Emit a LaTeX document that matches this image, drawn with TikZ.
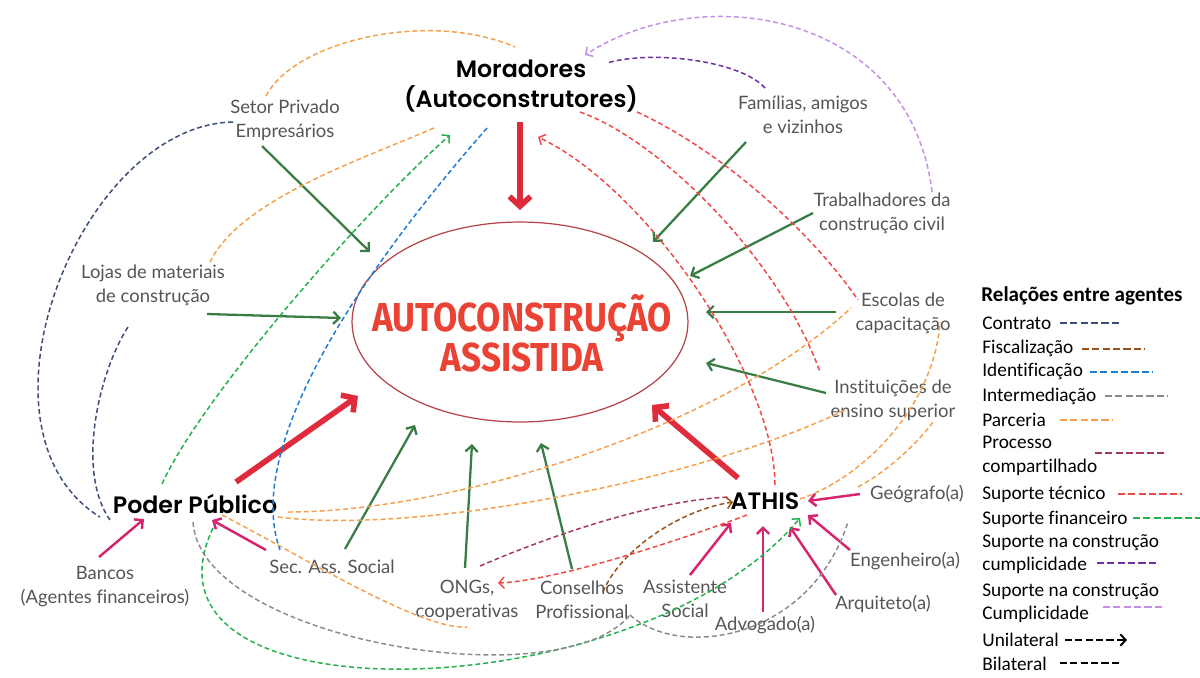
\documentclass[tikz,border=0pt]{standalone}
\usepackage{fontspec}
\setmainfont{Lato}[Ligatures=NoCommon]
\newfontfamily\popfont{Poppins}[UprightFont=* SemiBold]
\newfontfamily\titfont{Fira Sans}[FakeStretch=0.87]
\newfontfamily\legfont{Carlito}[Ligatures=NoCommon]
\usepackage{xcolor}
\usepackage{tikz}
\usetikzlibrary{shapes.geometric,arrows.meta,calc}
\definecolor{cnavy}{HTML}{3B4E78}
\definecolor{cbrown}{HTML}{98541B}
\definecolor{cblue}{HTML}{1F7BD8}
\definecolor{cgray}{HTML}{8C8C8C}
\definecolor{corange}{HTML}{F6A04D}
\definecolor{cmaroon}{HTML}{A33A5A}
\definecolor{cred}{HTML}{F04848}
\definecolor{cgreen}{HTML}{22B14C}
\definecolor{cpurple}{HTML}{7030A0}
\definecolor{clav}{HTML}{C48FE6}
\definecolor{solgreen}{HTML}{3A7D44}
\definecolor{thickred}{HTML}{E02B3C}
\definecolor{pinkarr}{HTML}{D6246E}
\definecolor{ellred}{HTML}{B5434A}
\definecolor{titred}{HTML}{EA4335}
\definecolor{labgray}{HTML}{555555}

\begin{document}
\begin{tikzpicture}[x=0.02cm,y=-0.02cm,
  lbl/.style={text=labgray,font=\fontsize{10.5}{13.6}\selectfont,align=center,inner sep=1pt},
  bigtxt/.style={font=\popfont\fontsize{13.5}{17}\selectfont,align=center,inner sep=1pt},
  grn/.style={draw=solgreen,line width=1.3pt,-{Straight Barb[length=3.5pt,width=7pt]}},
  mag/.style={draw=pinkarr,line width=1.4pt,-{Straight Barb[length=3.5pt,width=7pt]}},
  bigarr/.style={draw=thickred,line width=3.2pt,-{Straight Barb[length=5.5pt,width=12pt]}},
  dsh/.style={line width=0.85pt,dash pattern=on 2.8pt off 1.7pt},
  dtip/.style={-{Straight Barb[length=3pt,width=6.5pt]}},
  ldsh/.style={line width=1.1pt,dash pattern=on 4pt off 1.9pt},
  leg/.style={font=\legfont\fontsize{11}{13.4}\selectfont,anchor=west,inner sep=0pt,align=left}]
\useasboundingbox (0,0) rectangle (1200,677);

\node[bigtxt] (mor) at (521,86) {Moradores\\(Autoconstrutores)};
\node[draw=ellred,line width=0.7pt,ellipse,minimum width=6.72cm,minimum height=4cm] (ell) at (520,322) {};
\node[font=\titfont\bfseries\fontsize{23}{22.7}\selectfont,text=titred,align=center] (ttl) at (522,333) {AUTOCONSTRUÇÃO\\ASSISTIDA};
\node[lbl] (setor) at (285,120) {Setor Privado\\Empresários};
\node[lbl] (fam) at (803,115) {Famílias, amigos\\e vizinhos};
\node[lbl] (trab) at (882,213) {Trabalhadores da\\construção civil};
\node[lbl] (lojas) at (153,285) {Lojas de materiais\\de construção};
\node[lbl] (esc) at (903,313) {Escolas de\\capacitação};
\node[lbl] (inst) at (893,400) {Instituições de\\ensino superior};
\node[bigtxt] (pp) at (195,504) {Poder Público};
\node[bigtxt] (athis) at (765,501) {ATHIS};
\node[lbl] (geo) at (917,494) {Geógrafo(a)};
\node[lbl] (eng) at (905,561) {Engenheiro(a)};
\node[lbl] (arq) at (883,604) {Arquiteto(a)};
\node[lbl] (adv) at (765,625) {Advogado(a)};
\node[lbl] (assis) at (685,599) {Assistente\\Social};
\node[lbl] (cons) at (582,600) {Conselhos\\Profissional};
\node[lbl] (ongs) at (467,600) {ONGs,\\cooperativas};
\node[lbl] (sec) at (332,567) {Sec. Ass. Social};
\node[lbl] (bancos) at (105,587) {Bancos\\(Agentes financeiros)};

% pontos de chegada
\coordinate (morS) at (520,122);   \coordinate (ellN) at (520,210);
\coordinate (ppNE) at (236,482);   \coordinate (ellSW) at (358,396);
\coordinate (athisNW) at (738,478); \coordinate (ellSE) at (652,405);
\coordinate (setorS) at (262,146); \coordinate (ellA) at (370,252);
\coordinate (famS) at (746,142);   \coordinate (ellB) at (653,242);
\coordinate (trabW) at (813,213);  \coordinate (ellC) at (690,276);
\coordinate (lojasE) at (207,314); \coordinate (ellD) at (341,318);
\coordinate (escW) at (836,312);   \coordinate (ellE) at (706,312);
\coordinate (instW) at (826,393);  \coordinate (ellF) at (706,363);
\coordinate (secN) at (345,549);   \coordinate (ellG) at (415,425);
\coordinate (ongsN) at (465,568);  \coordinate (ellH) at (472,444);
\coordinate (consN) at (572,569);  \coordinate (ellI) at (541,443);
\coordinate (bancosN) at (99,557); \coordinate (ppSW) at (144,519);
\coordinate (secW) at (266,550);   \coordinate (ppS) at (212,520);
\coordinate (geoW) at (860,494);   \coordinate (athisE) at (808,501);
\coordinate (engW) at (850,550);   \coordinate (athisSE) at (808,515);
\coordinate (arqN) at (836,595);   \coordinate (athisS1) at (790,527);
\coordinate (advN) at (763,612);   \coordinate (athisS2) at (763,526);
\coordinate (assisN) at (690,575); \coordinate (athisSW) at (731,523);

\draw[bigarr] (morS) -- (ellN);
\draw[bigarr] (ppNE) -- (ellSW);
\draw[bigarr] (athisNW) -- (ellSE);
\draw[grn] (setorS) -- (ellA);
\draw[grn] (famS) -- (ellB);
\draw[grn] (trabW) -- (ellC);
\draw[grn] (lojasE) -- (ellD);
\draw[grn] (escW) -- (ellE);
\draw[grn] (instW) -- (ellF);
\draw[grn] (secN) -- (ellG);
\draw[grn] (ongsN) -- (ellH);
\draw[grn] (consN) -- (ellI);
\draw[mag] (bancosN) -- (ppSW);
\draw[mag] (secW) -- (ppS);
\draw[mag] (geoW) -- (athisE);
\draw[mag] (engW) -- (athisSE);
\draw[mag] (arqN) -- (athisS1);
\draw[mag] (advN) -- (athisS2);
\draw[mag] (assisN) -- (athisSW);

% relacoes tracejadas
\coordinate (setorT) at (266,96);  \coordinate (morTL) at (515,47);
\coordinate (morL) at (434,128);   \coordinate (lojasT) at (210,262);
\coordinate (ppR1) at (288,512);   \coordinate (escL) at (851,308);
\coordinate (ppR2) at (278,517);   \coordinate (instL) at (845,410);
\coordinate (athisR) at (800,499); \coordinate (escB) at (940,322);
\coordinate (geoT) at (858,487);   \coordinate (instB) at (933,422);
\coordinate (ppB1) at (222,515);   \coordinate (ongsB) at (467,627);
\coordinate (ppT) at (162,484);    \coordinate (morL2) at (450,135);
\coordinate (ppB2) at (213,528);   \coordinate (athisB) at (800,518);
\coordinate (ppB3) at (193,522);   \coordinate (consB) at (630,615);
\coordinate (engL) at (848,522);
\coordinate (morB) at (487,128);   \coordinate (secT) at (280,550);
\coordinate (setorL) at (233,122); \coordinate (ppL1) at (100,517);
\coordinate (lojasB) at (128,327); \coordinate (ppL2) at (110,520);
\coordinate (famT) at (765,88);    \coordinate (morR) at (607,63);
\coordinate (trabT) at (932,192);  \coordinate (morTR) at (585,55);
\coordinate (morB2) at (580,112);  \coordinate (redA) at (820,372);
\coordinate (morB3) at (637,112);  \coordinate (escL2) at (858,300);
\coordinate (athisT) at (775,485); \coordinate (morB4) at (538,137);
\coordinate (athisL) at (747,515); \coordinate (ongsR) at (498,583);
\coordinate (ongsT) at (480,566);  \coordinate (athisL2) at (730,497);
\coordinate (consT) at (603,592);  \coordinate (athisL3) at (733,502);

\draw[dsh,corange] (setorT) .. controls (295,40) and (430,10) .. (morTL);
\draw[dsh,corange] (morL) .. controls (360,160) and (240,200) .. (lojasT);
\draw[dsh,corange] (ppR1) .. controls (450,512) and (720,430) .. (escL);
\draw[dsh,corange] (ppR2) .. controls (420,535) and (700,480) .. (instL);
\draw[dsh,corange] (athisR) .. controls (870,475) and (935,400) .. (escB);
\draw[dsh,corange] (geoT) .. controls (890,470) and (920,440) .. (instB);
\draw[dsh,corange] (ppB1) .. controls (300,555) and (420,630) .. (ongsB);
\draw[dsh,cgreen,dtip] (ppT) .. controls (200,400) and (360,215) .. (morL2);
\draw[dsh,cgreen,dtip] (ppB2) .. controls (120,725) and (640,710) .. (athisB);
\draw[dsh,cgray] (ppB3) .. controls (200,640) and (560,700) .. (consB);
\draw[dsh,cgray] (consB) .. controls (680,660) and (810,640) .. (engL);
\draw[dsh,cblue] (morB) .. controls (380,250) and (240,440) .. (secT);
\draw[dsh,cnavy] (setorL) .. controls (80,125) and (-40,430) .. (ppL1);
\draw[dsh,cnavy] (lojasB) .. controls (100,370) and (75,470) .. (ppL2);
\draw[dsh,cpurple] (famT) .. controls (740,60) and (650,50) .. (morR);
\draw[dsh,clav,dtip] (trabT) .. controls (910,10) and (700,-20) .. (morTR);
\draw[dsh,cred] (morB2) .. controls (660,140) and (780,260) .. (redA);
\draw[dsh,cred] (morB3) .. controls (720,150) and (810,230) .. (escL2);
\draw[dsh,cred,dtip] (athisT) .. controls (775,380) and (650,190) .. (morB4);
\draw[dsh,cred,dtip] (athisL) .. controls (680,540) and (560,580) .. (ongsR);
\draw[dsh,cmaroon] (ongsT) .. controls (540,540) and (650,500) .. (athisL2);
\draw[dsh,cbrown,dtip] (consT) .. controls (620,550) and (680,510) .. (athisL3);

% legenda
\node[font=\legfont\bfseries\fontsize{12}{14}\selectfont] (lgt) at (1082,296) {Relações entre agentes};
\node[leg] (lg1) at (982,323) {Contrato};
\node[leg] (lg2) at (982,348) {Fiscalização};
\node[leg] (lg3) at (982,371) {Identificação};
\node[leg] (lg4) at (982,396) {Intermediação};
\node[leg] (lg5) at (982,420) {Parceria};
\node[leg] (lg6) at (982,456) {Processo\\compartilhado};
\node[leg] (lg7) at (982,494) {Suporte técnico};
\node[leg] (lg8) at (982,519) {Suporte financeiro};
\node[leg] (lg9) at (982,554) {Suporte na construção\\cumplicidade};
\node[leg] (lg10) at (982,603) {Suporte na construção\\Cumplicidade};
\node[leg] (lg11) at (982,640) {Unilateral};
\node[leg] (lg12) at (982,664) {Bilateral};
\draw[ldsh,cnavy] (1060,323) -- (1122,323);
\draw[ldsh,cbrown] (1082,349) -- (1145,349);
\draw[ldsh,cblue] (1090,372) -- (1153,372);
\draw[ldsh,cgray] (1105,396) -- (1168,396);
\draw[ldsh,corange] (1060,420) -- (1113,420);
\draw[ldsh,cmaroon] (1095,453) -- (1167,453);
\draw[ldsh,cred] (1118,494) -- (1182,494);
\draw[ldsh,cgreen] (1133,518) -- (1200,518);
\draw[ldsh,cpurple] (1097,563) -- (1158,563);
\draw[ldsh,clav] (1103,607) -- (1163,607);
\draw[ldsh,black,-{Straight Barb[length=3pt,width=6.5pt]}] (1065,640) -- (1127,640);
\draw[ldsh,black] (1060,663) -- (1120,663);
\end{tikzpicture}
\end{document}
